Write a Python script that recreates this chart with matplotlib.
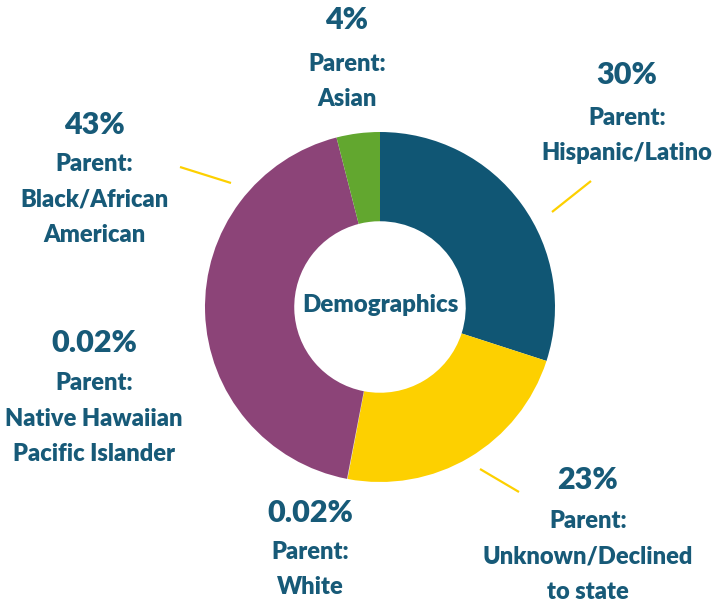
import matplotlib
matplotlib.use("Agg")
import matplotlib.pyplot as plt

categories = ["Hispanic/Latino", "Unknown/Declined\nto state", "White",
              "Native Hawaiian\nPacific Islander", "Black/African\nAmerican", "Asian"]
values = [30, 23, 0.02, 0.02, 43, 4]
pct_labels = ["30%", "23%", "0.02%", "0.02%", "43%", "4%"]
colors = ["#105674", "#fdd000", "#e8e8e8", "#cccccc", "#8c4478", "#62a72f"]

TXT = "#175a78"
FONT = ["Lato", "DejaVu Sans"]
W, H = 713, 603

fig = plt.figure(figsize=(7.13, 6.03), dpi=100)
ax = fig.add_axes([0, 0, 1, 1])

cx, cy, R = 380, 307, 175
ax.pie(values, colors=colors, startangle=90, counterclock=False,
       center=(cx, H - cy), radius=R,
       wedgeprops=dict(width=R * 0.51, edgecolor="none", linewidth=0))
ax.set_xlim(0, W)
ax.set_ylim(0, H)
ax.set_aspect("equal")
ax.axis("off")

# label layout: (x center, y of percent, y of first text line) in pixel coords from top
layout = [
    (627, 75, 118),
    (588, 480, 521),
    (310, 513, 552),
    (94, 343, 383),
    (94, 125, 164),
    (347, 20, 64),
]
line_gap = 35.5
for (x, yp, yl), pct, cat in zip(layout, pct_labels, categories):
    ax.text(x, H - yp, pct, ha="center", va="center", fontsize=22, fontweight="heavy",
            color=TXT, family=FONT)
    lines = ["Parent:"] + cat.split("\n")
    for i, ln in enumerate(lines):
        ax.text(x, H - (yl + i * line_gap), ln, ha="center", va="center", fontsize=17,
                fontweight="heavy", color=TXT, family=FONT)

# leader lines
leaders = [((552, 212), (591, 181)), ((480, 469), (519, 492)), ((231, 183), (180, 167))]
for (x1, y1), (x2, y2) in leaders:
    ax.plot([x1, x2], [H - y1, H - y2], color="#fdd000", lw=1.6, solid_capstyle="butt")

ax.text(cx, H - 305, "Demographics", ha="center", va="center", fontsize=17.3,
        fontweight="heavy", color=TXT, family=FONT)

fig.savefig("out.png", dpi=100)
